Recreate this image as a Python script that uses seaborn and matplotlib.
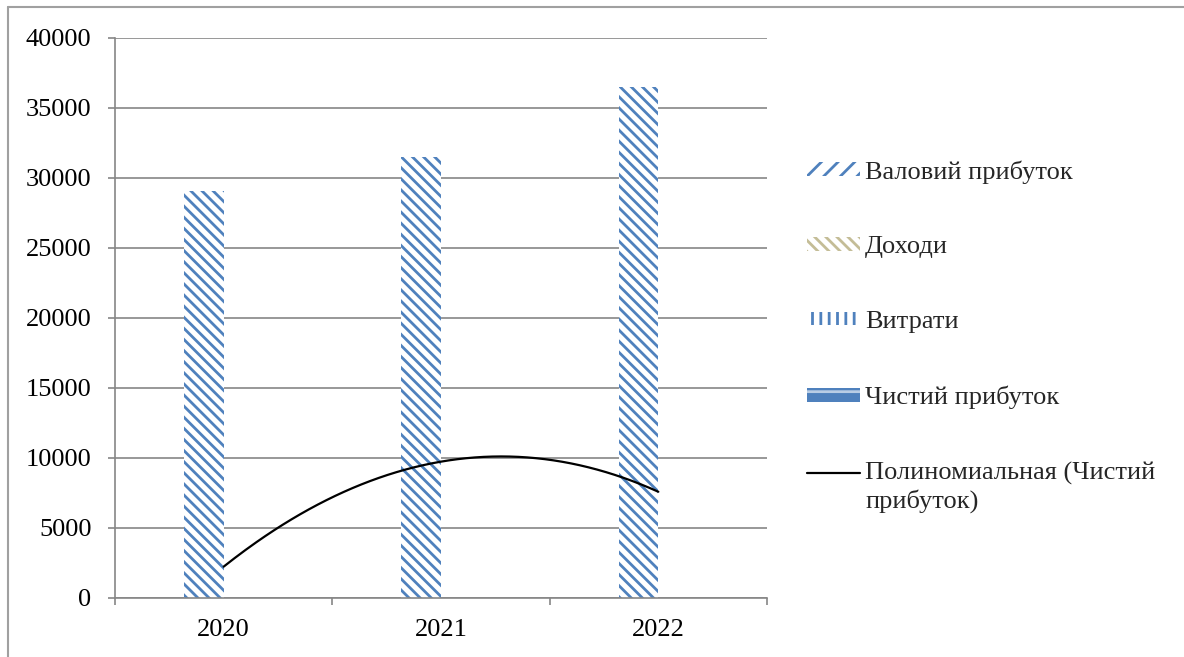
import numpy as np
import pandas as pd
import matplotlib
matplotlib.use("Agg")
import matplotlib.pyplot as plt
import seaborn as sns
from matplotlib.patches import Patch
from matplotlib.lines import Line2D
from matplotlib.legend_handler import HandlerLine2D

# ---- data ----
years = ["2020", "2021", "2022"]
series_names = ["Валовий прибуток", "Доходи", "Витрати", "Чистий прибуток"]
income = [29070, 31520, 36520]          # visible bars (Доходи)
net_profit = [2240, 9740, 7590]          # used for polynomial trendline
trend_label = "Полиномиальная (Чистий\nприбуток)"
y_ticks = [0, 5000, 10000, 15000, 20000, 25000, 30000, 35000, 40000]

sns.set_theme(style="white")
plt.rcParams["font.family"] = ["Liberation Serif", "DejaVu Serif"]
plt.rcParams["hatch.linewidth"] = 2.0

BLUE = "#4F81BD"
TAN = "#C4BD97"
GRID = "#868686"
FS = 19

fig = plt.figure(figsize=(11.84, 6.57), dpi=100)
ax = fig.add_axes([115 / 1184, 1 - 598 / 657, (767 - 115) / 1184, (598 - 38) / 657])

df = pd.DataFrame({"Рік": years, "Значення": income, "Серія": ["Доходи"] * 3})
sns.barplot(data=df, x="Рік", y="Значення", hue="Серія", hue_order=series_names,
            order=years, width=0.727, gap=0, dodge=True, ax=ax, legend=False,
            errorbar=None, palette=[BLUE] * 4, saturation=1)
for p in ax.patches:
    p.set_facecolor("white")
    p.set_edgecolor(BLUE)
    p.set_linewidth(0)
    p.set_hatch("\\\\\\")
    p.set_zorder(2)

# polynomial (order 2) trendline of net profit
xs = np.arange(len(years))
coef = np.polyfit(xs, net_profit, 2)
xx = np.linspace(0, len(years) - 1, 200)
ax.plot(xx, np.polyval(coef, xx), color="black", lw=1.6, zorder=4)

ax.set_xlim(-0.5, 2.5)
ax.set_ylim(0, 40000)
ax.set_yticks(y_ticks)
ax.set_yticklabels([str(v) for v in y_ticks])
ax.set_xticks(xs)
ax.set_xticklabels(years)
ax.set_xticks([-0.5, 0.5, 1.5, 2.5], minor=True)
ax.set_xlabel("")
ax.set_ylabel("")

ax.yaxis.grid(True, color=GRID, lw=1.2)
ax.set_axisbelow(True)
for s in ["top", "right"]:
    ax.spines[s].set_visible(False)
for s in ["left", "bottom"]:
    ax.spines[s].set_color(GRID)
    ax.spines[s].set_linewidth(1.2)

ax.tick_params(axis="y", which="major", length=5, width=1.2, color=GRID,
               labelsize=FS, pad=12, left=True, labelcolor="black")
ax.tick_params(axis="x", which="major", length=0, labelsize=FS, pad=15, labelcolor="black")
ax.tick_params(axis="x", which="minor", length=5, width=1.2, color=GRID, bottom=True)


class TopLineHandler(HandlerLine2D):
    """Place the legend line next to the first line of a two-line label."""
    def create_artists(self, legend, orig_handle, xdescent, ydescent, width, height,
                       fontsize, trans):
        artists = super().create_artists(legend, orig_handle, xdescent, ydescent,
                                         width, height, fontsize, trans)
        for a in artists:
            y = np.asarray(a.get_ydata(), dtype=float)
            a.set_ydata(y + 0.58 * fontsize)
        return artists


trend_handle = Line2D([], [], color="black", lw=1.6)
handles = [
    Patch(facecolor="white", edgecolor=BLUE, hatch="//", lw=0),
    Patch(facecolor="white", edgecolor=TAN, hatch="\\\\\\", lw=0),
    Patch(facecolor="white", edgecolor=BLUE, hatch="||", lw=0),
    Patch(facecolor=BLUE, edgecolor="#B9CDE5", hatch="-", lw=0),
    trend_handle,
]
labels = series_names + [trend_label]
leg = fig.legend(handles, labels, loc="upper left",
                 bbox_to_anchor=(807 / 1184, 1 - 160 / 657),
                 frameon=False, fontsize=FS, handlelength=2.0, handleheight=0.4,
                 handletextpad=0.2, labelspacing=2.0, borderpad=0, borderaxespad=0,
                 handler_map={trend_handle: TopLineHandler()})

# outer chart border (top and left edges visible)
fig.add_artist(Line2D([8 / 1184, 1], [1 - 7 / 657, 1 - 7 / 657], color="#A0A0A0", lw=1.5,
                      transform=fig.transFigure))
fig.add_artist(Line2D([8 / 1184, 8 / 1184], [0, 1 - 7 / 657], color="#A0A0A0", lw=1.5,
                      transform=fig.transFigure))

fig.savefig("out.png", dpi=100, facecolor="white")
